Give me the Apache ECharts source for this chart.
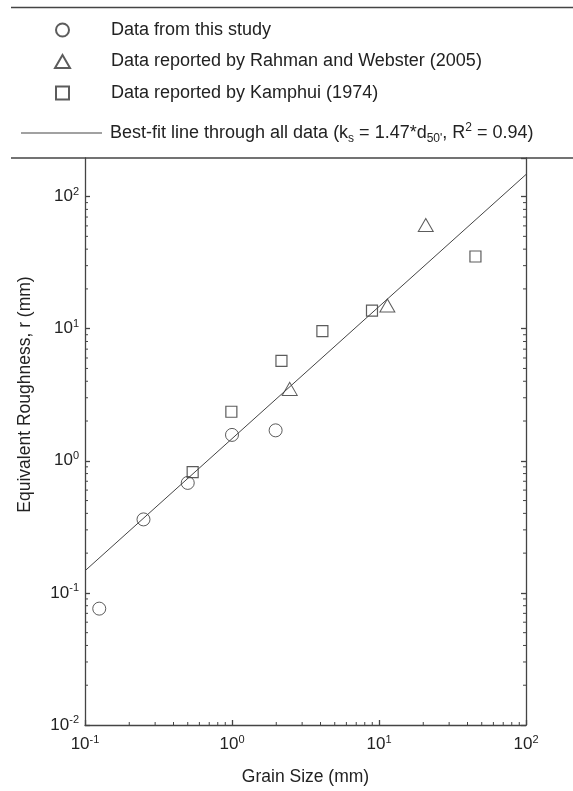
<!DOCTYPE html>
<html>
<head>
<meta charset="utf-8">
<script src="https://cdn.jsdelivr.net/npm/echarts@6/dist/echarts.min.js"></script>
<style>html,body{margin:0;padding:0;background:#fff}#c{width:573px;height:791px}</style>
</head>
<body>
<div id="c"></div>
<script>
// ---- data ----
const studyData   = [[0.125, 0.076], [0.25, 0.36], [0.5, 0.68], [1.0, 1.57], [1.98, 1.70]];
const rahmanData  = [[2.47, 3.5], [11.4, 15.0], [20.8, 61]];
const kamphuiData = [[0.54, 0.82], [0.99, 2.35], [2.17, 5.7], [4.12, 9.6], [8.96, 13.7], [45.3, 35.2]];
const fitLineData = [[0.1, 0.147], [100, 147]];

const seriesNames = [
  'Data from this study',
  'Data reported by Rahman and Webster (2005)',
  'Data reported by Kamphui (1974)',
  'Best-fit line through all data (ks = 1.47*d50, R2 = 0.94)'
];
const fitLegendRich = 'Best-fit line through all data (k{sub|s} = 1.47*d{sub|50\'}, R{sup|2} = 0.94)';

const xRange = [0.1, 100];
const yRange = [0.01, 195.9];
const xTitle = 'Grain Size (mm)';
const yTitle = 'Equivalent Roughness, r (mm)';
const minorMultipliers = [2, 3, 4, 5, 6, 7, 8, 9];

// ---- helpers ----
const FONT = '"Liberation Sans", Arial, sans-serif';
const INK = '#333';
const TXT = '#222';

function powLabel(v) {
  const e = Math.log10(v);
  const r = Math.round(e);
  if (Math.abs(e - r) > 1e-6) return '';
  return '{b|10}{s|' + r + '}';
}
const labelRich = {
  b: { fontSize: 17, color: TXT, fontFamily: FONT },
  s: { fontSize: 11, color: TXT, fontFamily: FONT, padding: [0, 0, 10, 0] }
};

// minor tick positions (axis decoration) built from the axis ranges
const minorTicks = [];
for (let d = Math.floor(Math.log10(yRange[0])); d <= Math.ceil(Math.log10(yRange[1])); d++) {
  minorMultipliers.forEach(m => {
    const v = m * Math.pow(10, d);
    if (v > yRange[0] && v < yRange[1]) {
      minorTicks.push([xRange[0], v, 0]);
      minorTicks.push([xRange[1], v, 1]);
    }
  });
}
for (let d = Math.floor(Math.log10(xRange[0])); d < Math.ceil(Math.log10(xRange[1])); d++) {
  minorMultipliers.forEach(m => {
    const v = m * Math.pow(10, d);
    if (v > xRange[0] && v < xRange[1]) minorTicks.push([v, yRange[0], 2]);
  });
}

const chart = echarts.init(document.getElementById('c'), null, { renderer: 'canvas' });

const axisLineStyle = { color: '#444', width: 1.3 };
const legendText = { fontSize: 18, color: TXT, fontFamily: FONT, padding: [0, 0, 0, 3] };

chart.setOption({
  animation: false,
  backgroundColor: '#fff',
  textStyle: { fontFamily: FONT },
  grid: { left: 85, right: 47, top: 158, bottom: 64.3, containLabel: false },
  legend: [{
    orient: 'vertical',
    left: 54,
    top: 21,
    padding: 0,
    itemWidth: 81,
    itemHeight: 13,
    itemGap: 13.5,
    selectedMode: false,
    symbolKeepAspect: true,
    data: [
      { name: seriesNames[0], icon: 'circle' },
      { name: seriesNames[1], icon: 'path://M7.5,0L15,13L0,13Z' },
      { name: seriesNames[2], icon: 'path://M0,0L11,0L11,11L0,11Z' }
    ],
    textStyle: legendText
  }, {
    orient: 'vertical',
    left: 21,
    top: 122,
    padding: 0,
    itemWidth: 81,
    itemHeight: 13,
    selectedMode: false,
    symbolKeepAspect: true,
    data: [{ name: seriesNames[3], icon: 'path://M0,0L81,0L81,1.2L0,1.2Z' }],
    formatter: () => fitLegendRich,
    textStyle: Object.assign({}, legendText, {
      rich: {
        sub: { fontSize: 12, color: TXT, fontFamily: FONT, padding: [11, 0, 0, 0] },
        sup: { fontSize: 12, color: TXT, fontFamily: FONT, padding: [0, 0, 10, 0] }
      }
    })
  }],
  xAxis: {
    type: 'log', logBase: 10, min: xRange[0], max: xRange[1],
    name: xTitle, nameLocation: 'middle', nameGap: 43,
    nameTextStyle: { fontSize: 17.5, color: TXT, fontFamily: FONT },
    axisLine: { show: true, lineStyle: axisLineStyle },
    axisTick: { show: true, inside: true, length: 5, lineStyle: axisLineStyle },
    axisLabel: { formatter: powLabel, rich: labelRich, margin: 9, showMinLabel: true, showMaxLabel: true },
    splitLine: { show: false }
  },
  yAxis: [{
    type: 'log', logBase: 10, min: yRange[0], max: yRange[1],
    name: yTitle, nameLocation: 'middle', nameGap: 51, nameRotate: 90,
    nameTextStyle: { fontSize: 17.5, color: TXT, fontFamily: FONT, padding: [0, 0, 0, 94] },
    axisLine: { show: true, lineStyle: axisLineStyle },
    axisTick: { show: true, inside: true, length: 5, lineStyle: axisLineStyle },
    axisLabel: { formatter: powLabel, rich: labelRich, margin: 6, showMaxLabel: false },
    splitLine: { show: false }
  }, {
    type: 'log', logBase: 10, min: yRange[0], max: yRange[1], position: 'right',
    axisLine: { show: true, lineStyle: axisLineStyle },
    axisTick: { show: true, inside: true, length: 5, lineStyle: axisLineStyle },
    axisLabel: { show: false },
    splitLine: { show: false }
  }],
  graphic: [
    { type: 'line', z: 10, shape: { x1: 11, y1: 7.5, x2: 573, y2: 7.5 }, style: { stroke: '#444', lineWidth: 1.3 } },
    { type: 'line', z: 10, shape: { x1: 11, y1: 158, x2: 573, y2: 158 }, style: { stroke: '#444', lineWidth: 1.3 } }
  ],
  series: [
    {
      name: seriesNames[0], type: 'scatter', data: studyData,
      symbol: 'circle', symbolSize: 13,
      itemStyle: { color: 'rgba(255,255,255,0)', borderColor: INK, borderWidth: 1 }
    },
    {
      name: seriesNames[1], type: 'scatter', data: rahmanData,
      symbol: 'triangle', symbolSize: [15, 13],
      itemStyle: { color: 'rgba(255,255,255,0)', borderColor: INK, borderWidth: 1 }
    },
    {
      name: seriesNames[2], type: 'scatter', data: kamphuiData,
      symbol: 'rect', symbolSize: 11,
      itemStyle: { color: 'rgba(255,255,255,0)', borderColor: INK, borderWidth: 1.2 }
    },
    {
      name: seriesNames[3], type: 'line', data: fitLineData,
      symbol: 'none', showSymbol: false,
      lineStyle: { color: '#444', width: 1 },
      itemStyle: { color: '#444' }
    },
    {
      name: 'minor ticks', type: 'custom', data: minorTicks, clip: false, silent: true,
      encode: { x: 0, y: 1 },
      renderItem: (params, api) => {
        const p = api.coord([api.value(0), api.value(1)]);
        const side = api.value(2);
        const L = 3;
        let q;
        if (side === 0) q = [p[0] + L, p[1]];
        else if (side === 1) q = [p[0] - L, p[1]];
        else q = [p[0], p[1] - L];
        return { type: 'line', shape: { x1: p[0], y1: p[1], x2: q[0], y2: q[1] }, style: { stroke: '#444', lineWidth: 1 } };
      }
    }
  ]
});
</script>
</body>
</html>
